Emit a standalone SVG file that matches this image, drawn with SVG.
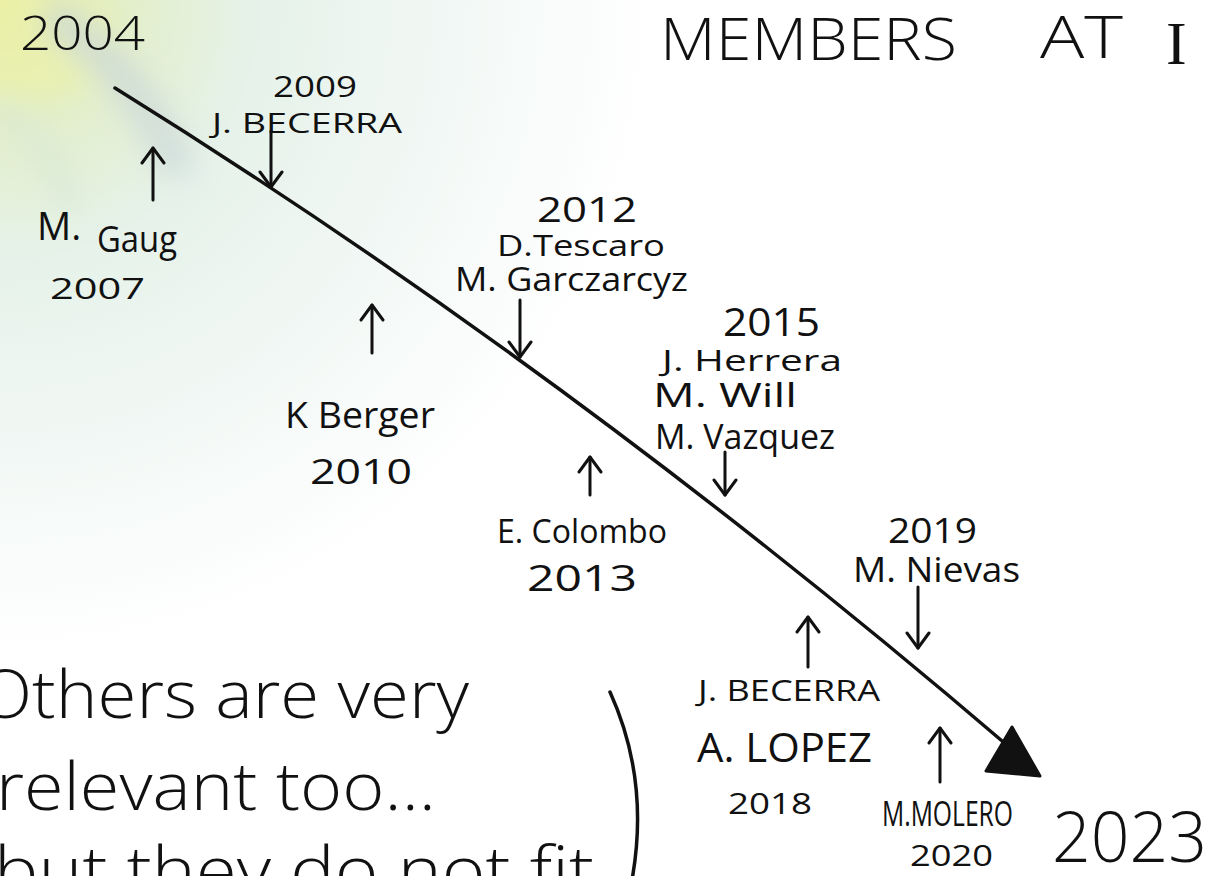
<svg xmlns="http://www.w3.org/2000/svg" width="1211" height="876" viewBox="0 0 1211 876">
  <defs>
    <radialGradient id="bg" cx="0" cy="0" r="820" gradientUnits="userSpaceOnUse">
      <stop offset="0" stop-color="#e6eea2"/>
      <stop offset="0.12" stop-color="#e2eec4"/>
      <stop offset="0.32" stop-color="#e6f2ea"/>
      <stop offset="0.55" stop-color="#f2f8f5"/>
      <stop offset="0.8" stop-color="#ffffff"/>
    </radialGradient>
    <filter id="soft" x="-50%" y="-50%" width="200%" height="200%">
      <feGaussianBlur stdDeviation="14"/>
    </filter>
    <marker id="vhead" viewBox="-18 -13 20 26" markerWidth="20" markerHeight="26" refX="0" refY="0" markerUnits="userSpaceOnUse" orient="auto">
      <path d="M-15,-11 L0,0 L-15,11" fill="none" stroke="#111" stroke-width="3" stroke-linecap="round" stroke-linejoin="round"/>
    </marker>
    <style>
      .hw { font-family: "Open Sans", "Liberation Sans", sans-serif; fill: #111; font-weight: 400; }
      .big { font-family: "Open Sans", "Liberation Sans", sans-serif; fill: #111; font-weight: 300; }
      .tick { stroke: #111; stroke-width: 3; fill: none; stroke-linecap: round; marker-end: url(#vhead); }
      .timeline { stroke: #111; stroke-width: 3.5; fill: none; stroke-linecap: round; }
    </style>
  </defs>

  <rect x="0" y="0" width="1211" height="876" fill="#ffffff"/>
  <rect x="0" y="0" width="1211" height="876" fill="url(#bg)"/>
  <g filter="url(#soft)" opacity="0.6">
    <ellipse cx="30" cy="40" rx="90" ry="60" fill="#eef2a8"/>
    <path d="M60,20 Q130,70 175,160" fill="none" stroke="#c6d3d8" stroke-width="38" stroke-linecap="round"/>
    <path d="M0,110 Q50,140 70,200" fill="none" stroke="#d3e4d6" stroke-width="20" stroke-linecap="round"/>
  </g>

  <g id="title">
    <text class="big" x="660" y="60" font-size="58" textLength="297" lengthAdjust="spacingAndGlyphs">MEMBERS</text>
    <text class="big" x="1040" y="58" font-size="58" textLength="83" lengthAdjust="spacingAndGlyphs">AT</text>
    <text x="1166" y="64" font-size="62" font-family="Liberation Serif, serif" font-weight="400" fill="#111">I</text>
  </g>

  <g id="start-2004">
    <text class="big" x="20" y="50" font-size="48" textLength="125" lengthAdjust="spacingAndGlyphs">2004</text>
  </g>
  <g id="end-2023">
    <text class="big" x="1052" y="862" font-size="70" textLength="155" lengthAdjust="spacingAndGlyphs">2023</text>
  </g>

  <g id="m2007">
    <text class="hw" font-size="38"><tspan x="37" y="240">M.</tspan> <tspan x="97" y="252" font-size="36" textLength="80" lengthAdjust="spacingAndGlyphs">Gaug</tspan></text>
    <text class="hw" x="50" y="299" font-size="30" textLength="95" lengthAdjust="spacingAndGlyphs">2007</text>
  </g>
  <g id="m2009">
    <text class="hw" x="273" y="97" font-size="30" textLength="84" lengthAdjust="spacingAndGlyphs">2009</text>
    <text class="hw" x="212" y="133" font-size="28" textLength="190" lengthAdjust="spacingAndGlyphs">J. BECERRA</text>
  </g>
  <g id="m2010">
    <text class="hw" x="285" y="428" font-size="36" textLength="150" lengthAdjust="spacingAndGlyphs">K Berger</text>
    <text class="hw" x="310" y="484" font-size="34" textLength="102" lengthAdjust="spacingAndGlyphs">2010</text>
  </g>
  <g id="m2012">
    <text class="hw" x="537" y="222" font-size="34" textLength="100" lengthAdjust="spacingAndGlyphs">2012</text>
    <text class="hw" x="497" y="256" font-size="30" textLength="168" lengthAdjust="spacingAndGlyphs">D.Tescaro</text>
    <text class="hw" x="455" y="291" font-size="33" textLength="233" lengthAdjust="spacingAndGlyphs">M. Garczarcyz</text>
  </g>
  <g id="m2013">
    <text class="hw" x="497" y="543" font-size="32" textLength="170" lengthAdjust="spacingAndGlyphs">E. Colombo</text>
    <text class="hw" x="527" y="591" font-size="36" textLength="110" lengthAdjust="spacingAndGlyphs">2013</text>
  </g>
  <g id="m2015">
    <text class="hw" x="723" y="336" font-size="38" textLength="97" lengthAdjust="spacingAndGlyphs">2015</text>
    <text class="hw" x="662" y="371" font-size="30" textLength="180" lengthAdjust="spacingAndGlyphs">J. Herrera</text>
    <text class="hw" x="653" y="407" font-size="32" textLength="144" lengthAdjust="spacingAndGlyphs">M. Will</text>
    <text class="hw" x="655" y="449" font-size="34" textLength="180" lengthAdjust="spacingAndGlyphs">M. Vazquez</text>
  </g>
  <g id="m2018">
    <text class="hw" x="698" y="701" font-size="30" textLength="182" lengthAdjust="spacingAndGlyphs">J. BECERRA</text>
    <text class="hw" x="697" y="762" font-size="40" textLength="175" lengthAdjust="spacingAndGlyphs">A. LOPEZ</text>
    <text class="hw" x="728" y="814" font-size="30" textLength="84" lengthAdjust="spacingAndGlyphs">2018</text>
  </g>
  <g id="m2019">
    <text class="hw" x="888" y="543" font-size="34" textLength="89" lengthAdjust="spacingAndGlyphs">2019</text>
    <text class="hw" x="853" y="582" font-size="35" textLength="167" lengthAdjust="spacingAndGlyphs">M. Nievas</text>
  </g>
  <g id="m2020">
    <text class="hw" x="882" y="826" font-size="34" textLength="131" lengthAdjust="spacingAndGlyphs">M.MOLERO</text>
    <text class="hw" x="910" y="866" font-size="30" textLength="83" lengthAdjust="spacingAndGlyphs">2020</text>
  </g>

  <g id="note">
    <text class="big" x="-22" y="718" font-size="66" textLength="491" lengthAdjust="spacingAndGlyphs">Others are very</text>
    <text class="big" x="-4" y="810" font-size="66" textLength="440" lengthAdjust="spacingAndGlyphs">relevant too...</text>
    <text class="big" x="-6" y="894" font-size="66" textLength="600" lengthAdjust="spacingAndGlyphs">but they do not fit</text>
    <path d="M610,692 Q650,780 632,880" fill="none" stroke="#111" stroke-width="3.5" stroke-linecap="round"/>
  </g>

  <g id="connectors">
    <path class="timeline" d="M115,88 Q569,370 1008,746"/>
    <polygon points="1012,727 986,771 1040,776" fill="#111" stroke="#111" stroke-width="3" stroke-linejoin="round"/>
    <line class="tick" x1="153" y1="200" x2="153" y2="148"/>
    <line class="tick" x1="271" y1="131" x2="271" y2="187"/>
    <line class="tick" x1="372" y1="353" x2="372" y2="305"/>
    <line class="tick" x1="520" y1="300" x2="520" y2="357"/>
    <line class="tick" x1="590" y1="495" x2="590" y2="457"/>
    <line class="tick" x1="725" y1="452" x2="725" y2="495"/>
    <line class="tick" x1="808" y1="667" x2="808" y2="617"/>
    <line class="tick" x1="918" y1="587" x2="918" y2="648"/>
    <line class="tick" x1="940" y1="782" x2="940" y2="728"/>
  </g>
</svg>
